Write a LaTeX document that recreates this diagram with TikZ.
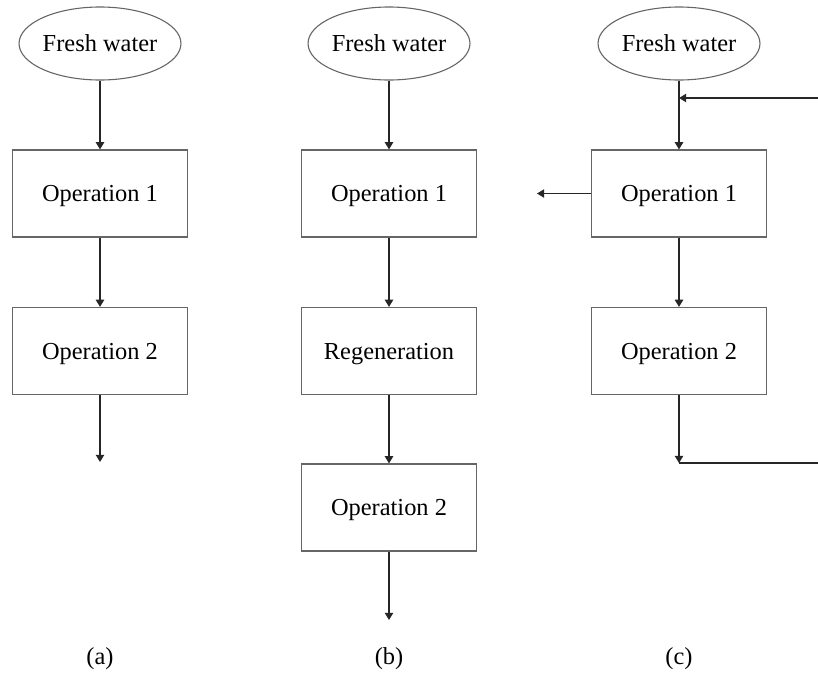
\documentclass[tikz,border=0pt]{standalone}
\usepackage{fontspec}
\setmainfont{Liberation Serif}
\usetikzlibrary{arrows.meta,shapes.geometric}
\begin{document}
\begin{tikzpicture}[x=0.5pt,y=-0.5pt,
  every node/.style={font=\fontsize{12.2}{14}\selectfont,text depth=0pt},
  source/.style={ellipse,draw=black!60,line width=0.55pt,minimum width=73pt,minimum height=36.5pt,inner sep=0pt},
  unit/.style={rectangle,draw=black!60,line width=0.6pt,minimum width=87.5pt,minimum height=43.5pt,inner sep=0pt},
  flow/.style={draw=black!85,line width=0.65pt,-{Triangle[width=4.2pt,length=3.6pt]}},
  pipe/.style={draw=black!85,line width=0.65pt},
  caption/.style={}]
  \useasboundingbox (0,0) rectangle (818,675);

  % (a) fresh water through two operations
  \node[source] (fwa) at (100,43.5) {Fresh water};
  \node[unit] (op1a) at (100,193.5) {Operation 1};
  \node[unit] (op2a) at (100,351) {Operation 2};
  \coordinate (outa) at (100,462);
  \draw[flow] (fwa) -- (op1a);
  \draw[flow] (op1a) -- (op2a);
  \draw[flow] (op2a) -- (outa);
  \node[caption] (capa) at (100,656) {(a)};

  % (b) regeneration between the operations
  \node[source] (fwb) at (389,43.5) {Fresh water};
  \node[unit] (op1b) at (389,193.5) {Operation 1};
  \node[unit] (regb) at (389,351) {Regeneration};
  \node[unit] (op2b) at (389,507.5) {Operation 2};
  \coordinate (outb) at (389,620);
  \draw[flow] (fwb) -- (op1b);
  \draw[flow] (op1b) -- (regb);
  \draw[flow] (regb) -- (op2b);
  \draw[flow] (op2b) -- (outb);
  \node[caption] (capb) at (389,656) {(b)};

  % (c) reuse with recycle streams
  \node[source] (fwc) at (679,43.5) {Fresh water};
  \node[unit] (op1c) at (679,193.5) {Operation 1};
  \node[unit] (op2c) at (679,351) {Operation 2};
  \coordinate (inc) at (818,98);
  \coordinate (joinc) at (679,98);
  \coordinate (leftc) at (537,193.5);
  \coordinate (botc) at (679,463);
  \coordinate (outc) at (818,463);
  \draw[flow] (fwc) -- (op1c);
  \draw[flow] (inc) -- (joinc);
  \draw[flow] (op1c.west) -- (leftc);
  \draw[flow] (op1c) -- (op2c);
  \draw[flow] (op2c) -- (botc);
  \draw[pipe] (botc) -- (outc);
  \node[caption] (capc) at (679,656) {(c)};
\end{tikzpicture}
\end{document}
